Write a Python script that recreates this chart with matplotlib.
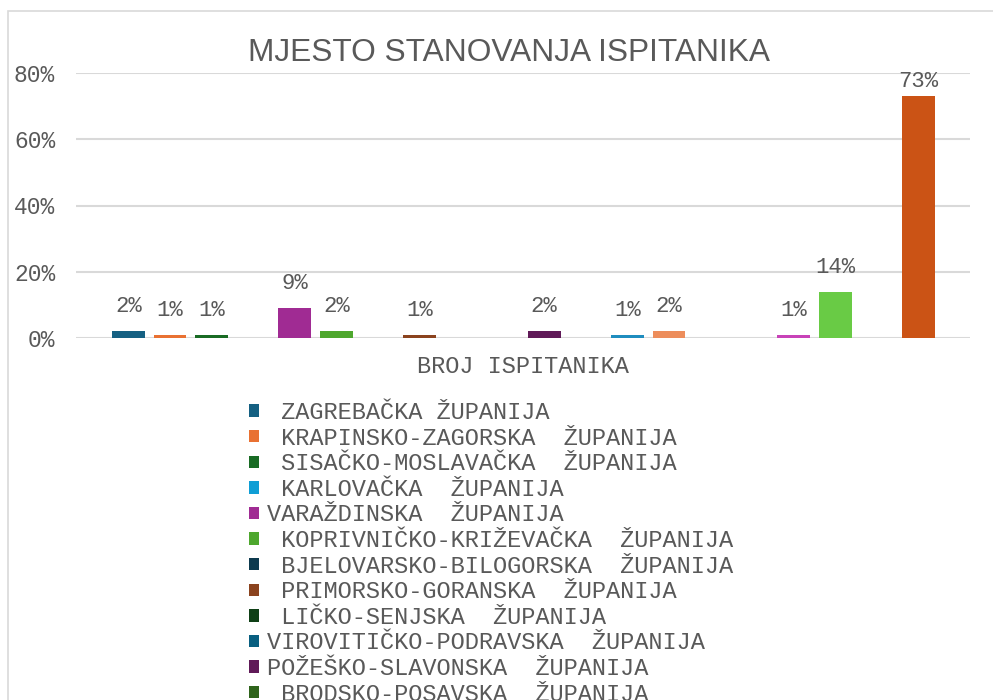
import matplotlib
matplotlib.use("Agg")
import matplotlib.pyplot as plt
from matplotlib.patches import Rectangle
from matplotlib.ticker import PercentFormatter

# --- data ---
counties = [
    " ZAGREBAČKA ŽUPANIJA",
    " KRAPINSKO-ZAGORSKA  ŽUPANIJA",
    " SISAČKO-MOSLAVAČKA  ŽUPANIJA",
    " KARLOVAČKA  ŽUPANIJA",
    "VARAŽDINSKA  ŽUPANIJA",
    " KOPRIVNIČKO-KRIŽEVAČKA  ŽUPANIJA",
    " BJELOVARSKO-BILOGORSKA  ŽUPANIJA",
    " PRIMORSKO-GORANSKA  ŽUPANIJA",
    " LIČKO-SENJSKA  ŽUPANIJA",
    "VIROVITIČKO-PODRAVSKA  ŽUPANIJA",
    "POŽEŠKO-SLAVONSKA  ŽUPANIJA",
    " BRODSKO-POSAVSKA  ŽUPANIJA",
    " ZADARSKA  ŽUPANIJA",
    " OSJEČKO-BARANJSKA  ŽUPANIJA",
    " ŠIBENSKO-KNINSKA  ŽUPANIJA",
    " VUKOVARSKO-SRIJEMSKA  ŽUPANIJA",
    " SPLITSKO-DALMATINSKA  ŽUPANIJA",
    " ISTARSKA  ŽUPANIJA",
    " DUBROVAČKO-NERETVANSKA  ŽUPANIJA",
    " MEĐIMURSKA  ŽUPANIJA",
]
shares = [0.02, 0.01, 0.01, 0.0, 0.09, 0.02, 0.0, 0.01, 0.0, 0.0,
          0.02, 0.0, 0.01, 0.02, 0.0, 0.0, 0.01, 0.14, 0.0, 0.73]
colors = ["#156082", "#E97132", "#196B24", "#0F9ED5", "#A02B93", "#4EA72E",
          "#0D3A4E", "#8B431E", "#0F4016", "#095F80", "#601A58", "#2F641C",
          "#1F8DBF", "#ED8D5B", "#25A036", "#35B9EC", "#C842B8", "#69CB45",
          "#114D68", "#CB5315"]
yticks = [0, 0.2, 0.4, 0.6, 0.8]

title = "MJESTO STANOVANJA ISPITANIKA"
xlabel = "BROJ ISPITANIKA"

mono = "Liberation Mono"
grey = "#595959"

# legend rows that fit inside the chart area before it is cut off
n_visible = 12

fig = plt.figure(figsize=(9.93, 7.0), dpi=100)
ax = fig.add_axes([76 / 993, 1 - 338 / 700, 894 / 993, 265 / 700])

x = list(range(len(shares)))
bars = ax.bar(x, shares, width=0.79, color=colors)

ax.set_xlim(-1.26, 20.24)
ax.set_ylim(0, 0.8)
ax.set_yticks(yticks)
ax.yaxis.set_major_formatter(PercentFormatter(1.0, decimals=0))
ax.set_xticks([])
ax.tick_params(axis="y", length=0, pad=15, labelsize=16.5, labelcolor=grey)
for lbl in ax.get_yticklabels():
    lbl.set_fontfamily(mono)
for s in ax.spines.values():
    s.set_visible(False)
ax.grid(axis="y", color="#D9D9D9", linewidth=1.5)
ax.set_axisbelow(True)

# data labels, kept inside the plot area like Excel does
off = 19 * 0.8 / 265
cap = 15 * 0.8 / 265
for xi, v in zip(x, shares):
    if v <= 0:
        continue
    ty = min(v + off, 0.8 - cap + 0.004)
    ax.text(xi, ty, f"{v * 100:.0f}%", ha="center", va="baseline",
            fontsize=16, family=mono, color=grey, clip_on=False)

fig.text(523 / 993, 1 - 373 / 700, xlabel, ha="center", va="baseline",
         fontsize=17, family=mono, color=grey)
fig.text(509 / 993, 1 - 61 / 700, title, ha="center", va="baseline",
         fontsize=22.8, family="Liberation Sans", color=grey)

leg = fig.legend(list(bars)[:n_visible], counties[:n_visible],
                 loc="upper left", bbox_to_anchor=(249 / 993, 1 - 401 / 700),
                 frameon=False, prop={"family": mono, "size": 17},
                 labelcolor=grey, handlelength=0.43, handleheight=0.43,
                 handletextpad=0.35, labelspacing=0.11, borderpad=0,
                 borderaxespad=0)

# chart area border (right and bottom run off the image)
fig.patches.append(Rectangle((8 / 993, -0.1), 1.2, 1.1 - 11 / 700,
                             transform=fig.transFigure, fill=False,
                             edgecolor="#D9D9D9", linewidth=1.2))

fig.savefig("out.png", dpi=100)
